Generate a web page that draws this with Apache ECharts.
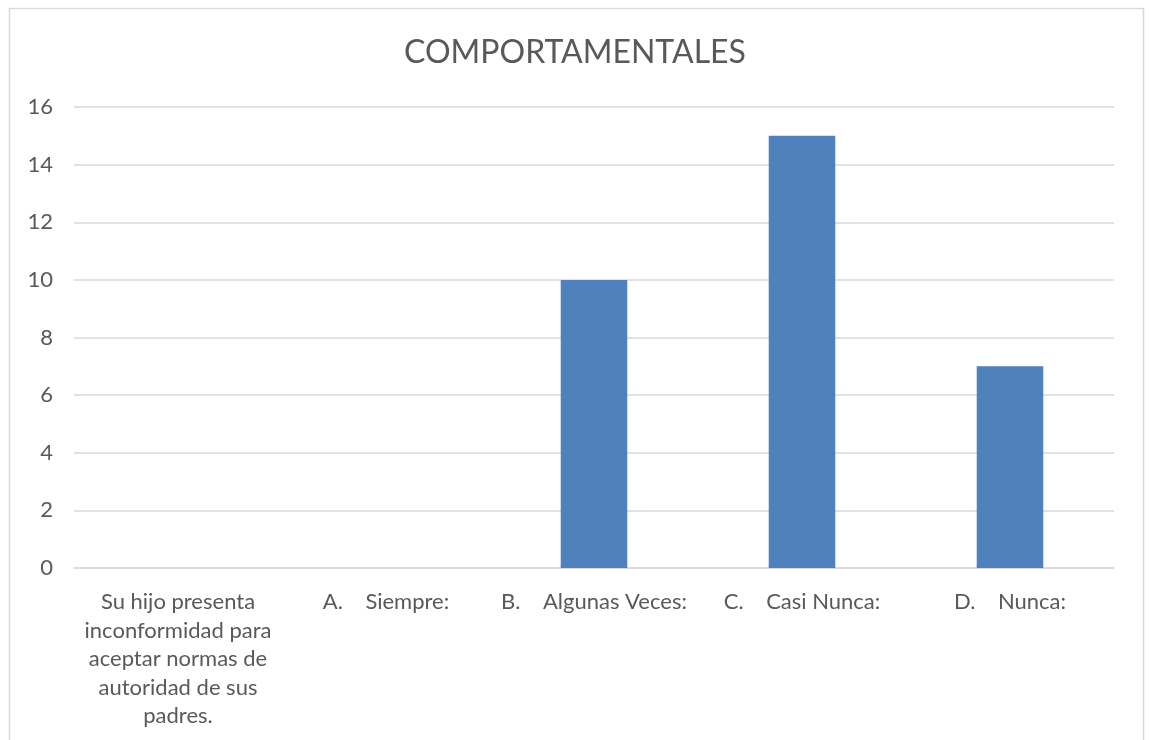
<!DOCTYPE html>
<html>
<head>
<meta charset="utf-8">
<script src="https://cdn.jsdelivr.net/npm/echarts@6/dist/echarts.min.js"></script>
<style>
html,body{margin:0;padding:0;background:#fff;}
#chart{width:1150px;height:740px;}
</style>
</head>
<body>
<div id="chart"></div>
<script>
const titleText = 'COMPORTAMENTALES';
const categories = [
  'Su hijo presenta\ninconformidad para\naceptar normas de\nautoridad de sus\npadres.',
  'A.    Siempre:',
  'B.    Algunas Veces:',
  'C.    Casi Nunca:',
  'D.    Nunca:'
];
const values = [null, 0, 10, 15, 7];
const yTicks = { min: 0, max: 16, interval: 2 };

const chart = echarts.init(document.getElementById('chart'));
chart.setOption({
  animation: false,
  backgroundColor: '#ffffff',
  textStyle: { fontFamily: 'Lato' },
  graphic: [{
    type: 'rect',
    shape: { x: 9.5, y: 8.5, width: 1134, height: 760 },
    style: { fill: 'none', stroke: '#d9d9d9', lineWidth: 1.5 },
    silent: true
  }],
  title: {
    text: titleText,
    left: 'center',
    top: 32,
    textStyle: { fontFamily: 'Lato', fontSize: 32, fontWeight: 'normal', color: '#595959' }
  },
  grid: { left: 74, right: 36, top: 107, bottom: 172, containLabel: false },
  xAxis: {
    type: 'category',
    data: categories,
    axisLine: { show: true, lineStyle: { color: '#d9d9d9', width: 1.5 } },
    axisTick: { show: false },
    axisLabel: {
      interval: 0,
      margin: 20,
      fontFamily: 'Lato',
      fontSize: 22,
      lineHeight: 28.5,
      color: '#595959',
      align: 'center'
    }
  },
  yAxis: {
    type: 'value',
    min: yTicks.min,
    max: yTicks.max,
    interval: yTicks.interval,
    axisLine: { show: false },
    axisTick: { show: false },
    splitLine: { lineStyle: { color: '#d9d9d9', width: 1.5 } },
    axisLabel: { fontFamily: 'Lato', fontSize: 22, color: '#595959', margin: 21 }
  },
  series: [{
    type: 'bar',
    data: values,
    barWidth: '32%',
    itemStyle: { color: '#4f81bd' }
  }]
});
</script>
</body>
</html>
